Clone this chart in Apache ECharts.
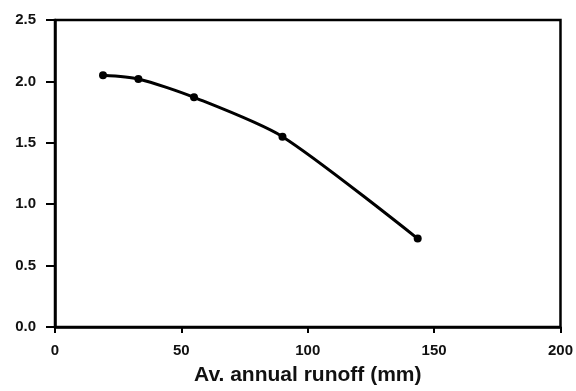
<!DOCTYPE html>
<html>
<head>
<meta charset="utf-8">
<script src="https://cdn.jsdelivr.net/npm/echarts@6/dist/echarts.min.js"></script>
<style>
  html, body { margin: 0; padding: 0; background: #fff; }
  #main { width: 576px; height: 391px; }
</style>
</head>
<body>
<div id="main"></div>
<script>
// runoff (mm) vs ratio
const runoff = [19, 33, 55, 90, 143.5]
const values = [2.05, 2.02, 1.87, 1.55, 0.72]
const xTicks = [0, 50, 100, 150, 200]
const yTicks = [0, 0.5, 1.0, 1.5, 2.0, 2.5]

const chart = echarts.init(document.getElementById('main'))
const font = 'Liberation Sans, Arial, sans-serif'

chart.setOption({
  animation: false,
  grid: {
    left: 55,
    right: 15,
    top: 20,
    bottom: 62,
    show: true,
    borderColor: '#000',
    borderWidth: 2.5,
  },
  xAxis: {
    type: 'value',
    min: xTicks[0],
    max: xTicks[xTicks.length - 1],
    interval: 50,
    name: 'Av. annual runoff (mm)',
    nameLocation: 'middle',
    nameGap: 38,
    nameTextStyle: { color: '#111', fontFamily: font, fontWeight: 'bold', fontSize: 21 },
    splitLine: { show: false },
    axisLine: { lineStyle: { color: '#000', width: 2.5 } },
    axisTick: { inside: false, length: 6, lineStyle: { color: '#000', width: 2 } },
    axisLabel: { color: '#111', fontFamily: font, fontWeight: 'bold', fontSize: 15, margin: 16 },
  },
  yAxis: {
    type: 'value',
    min: yTicks[0],
    max: yTicks[yTicks.length - 1],
    interval: 0.5,
    splitLine: { show: false },
    axisLine: { lineStyle: { color: '#000', width: 2.5 } },
    axisTick: { inside: false, length: 9, lineStyle: { color: '#000', width: 2 } },
    axisLabel: {
      color: '#111', fontFamily: font, fontWeight: 'bold', fontSize: 15, margin: 19,
      formatter: v => v.toFixed(1),
    },
  },
  series: [
    {
      type: 'line',
      data: runoff.map((x, i) => [x, values[i]]),
      smooth: 0.25,
      symbol: 'circle',
      symbolSize: 8,
      itemStyle: { color: '#000' },
      lineStyle: { color: '#000', width: 3 },
    },
  ],
})
</script>
</body>
</html>
